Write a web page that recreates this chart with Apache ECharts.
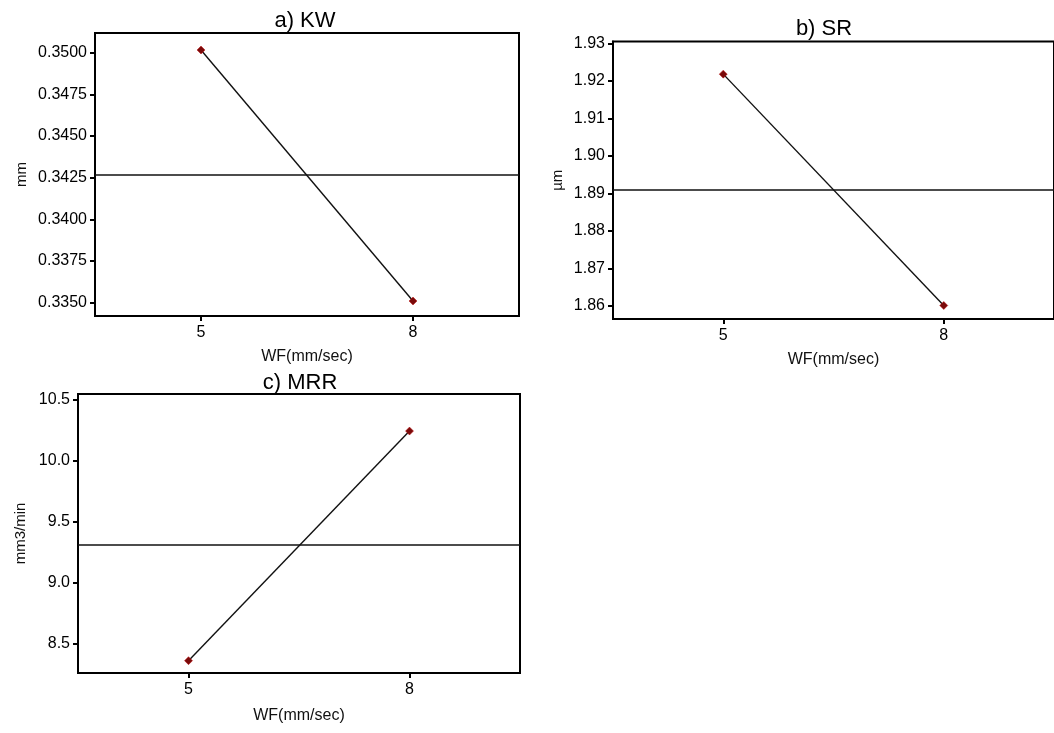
<!DOCTYPE html>
<html>
<head>
<meta charset="utf-8">
<script src="https://cdn.jsdelivr.net/npm/echarts@6/dist/echarts.min.js"></script>
<style>
  html, body { margin: 0; padding: 0; background: #fff; }
  #main { width: 1054px; height: 733px; }
</style>
</head>
<body>
<div id="main"></div>
<script>
// main effects of wire feed (WF) on KW, SR and MRR
var wfLevels = [5, 8];
var wfTicks = [5, 8];

var kwMeans = [0.35016, 0.33510];
var srMeans = [1.9218, 1.8601];
var mrrMeans = [8.364, 10.240];

var kwOverall = 0.34266;
var srOverall = 1.8909;
var mrrOverall = 9.31;

var kwTicks = [0.3350, 0.3375, 0.3400, 0.3425, 0.3450, 0.3475, 0.3500];
var srTicks = [1.86, 1.87, 1.88, 1.89, 1.90, 1.91, 1.92, 1.93];
var mrrTicks = [8.5, 9.0, 9.5, 10.0, 10.5];

var font = 'Liberation Sans, Arial, sans-serif';

function pairs(ys) {
    return wfLevels.map(function (x, i) { return [x, ys[i]]; });
}

function xAxisFor(idx, gap) {
    return {
        type: 'value', gridIndex: idx, min: 3.5, max: 9.5,
        name: 'WF(mm/sec)', nameLocation: 'middle', nameGap: gap,
        nameTextStyle: { color: '#111', fontSize: 16, fontFamily: font },
        splitLine: { show: false },
        axisLine: { show: true, lineStyle: { color: '#000', width: 2 } },
        axisTick: { show: true, length: 5, customValues: wfTicks, lineStyle: { color: '#000', width: 2 } },
        axisLabel: { customValues: wfTicks, color: '#000', fontSize: 16, fontFamily: font, margin: 9 }
    };
}

function yAxisFor(idx, min, max, ticks, dec, name, gap) {
    return {
        type: 'value', gridIndex: idx, min: min, max: max,
        name: name, nameLocation: 'middle', nameGap: gap,
        nameTextStyle: { color: '#111', fontSize: 15, fontFamily: font },
        splitLine: { show: false },
        axisLine: { show: true, lineStyle: { color: '#000', width: 2 } },
        axisTick: { show: true, length: 5, customValues: ticks, lineStyle: { color: '#000', width: 2 } },
        axisLabel: {
            customValues: ticks, color: '#000', fontSize: 16, fontFamily: font, margin: 8,
            formatter: function (v) { return v.toFixed(dec); }
        }
    };
}

function seriesFor(idx, ys, mean) {
    return {
        type: 'line', xAxisIndex: idx, yAxisIndex: idx,
        data: pairs(ys),
        symbol: 'diamond', symbolSize: 8,
        itemStyle: { color: '#7a0a0a', borderColor: '#c01010', borderWidth: 0.5 },
        lineStyle: { color: '#111', width: 1.4 },
        markLine: {
            silent: true, symbol: ['none', 'none'], precision: 6,
            label: { show: false },
            lineStyle: { color: '#111', width: 1.6, type: 'solid' },
            data: [{ yAxis: mean }]
        }
    };
}

var myChart = echarts.init(document.getElementById('main'));
var option = {
    backgroundColor: '#fff',
    animation: false,
    title: [
        { text: 'a) KW', left: 300, top: 5, textAlign: 'center', textStyle: { fontSize: 22, fontWeight: 'normal', color: '#000', fontFamily: font } },
        { text: 'b) SR', left: 819, top: 13, textAlign: 'center', textStyle: { fontSize: 22, fontWeight: 'normal', color: '#000', fontFamily: font } },
        { text: 'c) MRR', left: 295, top: 367, textAlign: 'center', textStyle: { fontSize: 22, fontWeight: 'normal', color: '#000', fontFamily: font } }
    ],
    grid: [
        { left: 95, top: 33, width: 424, height: 283, show: true, borderColor: '#000', borderWidth: 2, backgroundColor: '#fff' },
        { left: 613, top: 41.5, width: 446, height: 277.5, show: true, borderColor: '#000', borderWidth: 2, backgroundColor: '#fff' },
        { left: 78, top: 394, width: 442, height: 279, show: true, borderColor: '#000', borderWidth: 2, backgroundColor: '#fff' }
    ],
    xAxis: [
        xAxisFor(0, 33),
        xAxisFor(1, 33),
        xAxisFor(2, 35)
    ],
    yAxis: [
        yAxisFor(0, 0.3342, 0.35118, kwTicks, 4, 'mm', 66),
        yAxisFor(1, 1.8565, 1.9305, srTicks, 2, 'µm', 48),
        yAxisFor(2, 8.263, 10.543, mrrTicks, 1, 'mm3/min', 50)
    ],
    series: [
        seriesFor(0, kwMeans, kwOverall),
        seriesFor(1, srMeans, srOverall),
        seriesFor(2, mrrMeans, mrrOverall)
    ]
};
myChart.setOption(option);
</script>
</body>
</html>
